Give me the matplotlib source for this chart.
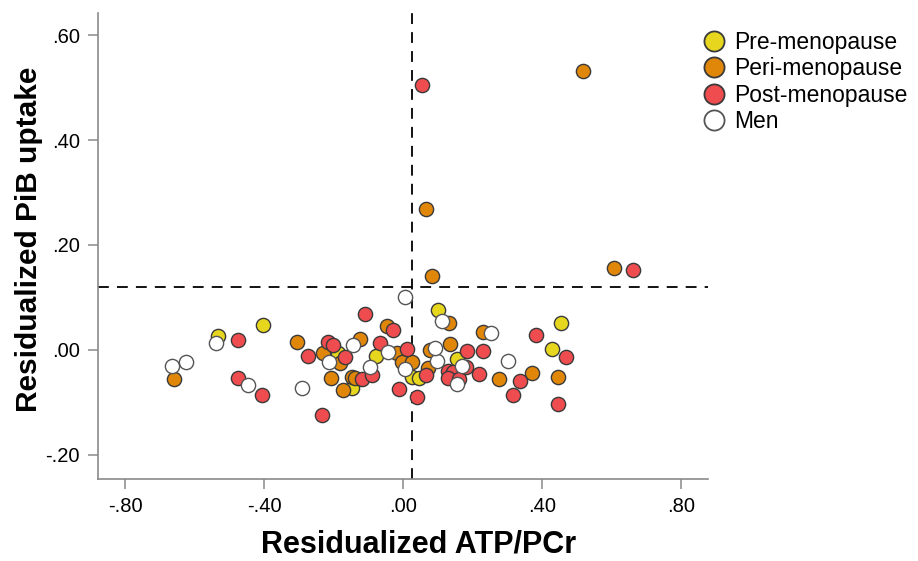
import matplotlib
matplotlib.use("Agg")
import matplotlib.pyplot as plt
from matplotlib.lines import Line2D

plt.rcParams['font.family'] = ['Liberation Sans', 'DejaVu Sans']

# residualized ATP/PCr (x) and PiB uptake (y) per group
pre_x = [-0.532, -0.403, -0.187, -0.147, -0.078, 0.026, 0.046, 0.101, 0.155, 0.455, 0.429]
pre_y = [0.027, 0.048, -0.006, -0.072, -0.011, -0.051, -0.053, 0.076, -0.017, 0.051, 0.002]

peri_x = [0.518, 0.066, 0.083, 0.607, -0.659, -0.305, -0.230, -0.181, -0.207, -0.173,
          -0.147, -0.138, -0.124, -0.046, -0.017, -0.003, 0.026, 0.072, 0.078, 0.132,
          0.135, 0.230, 0.276, 0.371, 0.446]
peri_y = [0.531, 0.269, 0.141, 0.156, -0.055, 0.015, -0.006, -0.025, -0.053, -0.076,
          -0.051, -0.053, 0.021, 0.046, -0.006, -0.023, -0.023, -0.034, 0.000, 0.051,
          0.011, 0.034, -0.055, -0.044, -0.051]

post_x = [0.055, 0.662, -0.475, -0.475, -0.406, -0.273, -0.233, -0.216, -0.201, -0.167,
          -0.109, -0.118, -0.089, -0.066, -0.029, 0.012, -0.012, 0.040, 0.066, 0.130,
          0.144, 0.130, 0.161, 0.181, 0.184, 0.219, 0.230, 0.317, 0.337, 0.383,
          0.469, 0.446]
post_y = [0.505, 0.152, 0.019, -0.053, -0.086, -0.011, -0.124, 0.015, 0.010, -0.013,
          0.069, -0.055, -0.048, 0.013, 0.038, 0.002, -0.074, -0.090, -0.048, -0.040,
          -0.042, -0.053, -0.055, -0.032, -0.002, -0.046, -0.002, -0.086, -0.059, 0.029,
          -0.013, -0.103]

men_x = [-0.665, -0.624, -0.538, -0.446, -0.291, -0.213, -0.144, -0.095, -0.043, 0.006,
         0.006, 0.098, 0.092, 0.112, 0.170, 0.155, 0.253, 0.302]
men_y = [-0.030, -0.023, 0.013, -0.067, -0.072, -0.023, 0.010, -0.032, -0.004, 0.101,
         -0.036, -0.021, 0.004, 0.055, -0.030, -0.065, 0.032, -0.021]

group_labels = ['Pre-menopause', 'Peri-menopause', 'Post-menopause', 'Men']
group_colors = ['#e6d71e', '#e0870a', '#ee4c4e', '#ffffff']
group_edges = ['#3a3a3a', '#3a3a3a', '#3a3a3a', '#555555']

x_ticks = [-0.8, -0.4, 0.0, 0.4, 0.8]
y_ticks = [-0.2, 0.0, 0.2, 0.4, 0.6]
x_cut = 0.026
y_cut = 0.12


def fmt(v):
    s = f"{v:.2f}"
    return s.replace("0.", ".", 1)


fig = plt.figure(figsize=(9.18, 5.61), dpi=100)
ax = fig.add_axes([0.1068, 0.1462, 0.6645, 0.8306])

groups = [(pre_x, pre_y), (peri_x, peri_y), (post_x, post_y), (men_x, men_y)]
for (gx, gy), c, ec in zip(groups, group_colors, group_edges):
    ax.scatter(gx, gy, s=105, c=c, edgecolors=ec, linewidths=1.0, zorder=3)

ax.axvline(x_cut, color='black', lw=1.3, ls=(0, (6, 4.5)), zorder=2)
ax.axhline(y_cut, color='black', lw=1.3, ls=(0, (6, 4.5)), zorder=2)

ax.set_xlim(-0.878, 0.878)
ax.set_ylim(-0.246, 0.642)
ax.set_xticks(x_ticks)
ax.set_yticks(y_ticks)
ax.set_xticklabels([fmt(v) for v in x_ticks])
ax.set_yticklabels([fmt(v) for v in y_ticks])

for side in ['top', 'right']:
    ax.spines[side].set_visible(False)
for side in ['left', 'bottom']:
    ax.spines[side].set_color('#8a8a8a')
    ax.spines[side].set_linewidth(1.2)
ax.tick_params(axis='both', direction='out', length=7, width=1.1, color='#8a8a8a',
               labelsize=14.5, pad=6)

ax.set_xlabel('Residualized ATP/PCr', fontsize=22, fontweight='bold')
ax.set_ylabel('Residualized PiB uptake', fontsize=21.5, fontweight='bold')
ax.xaxis.set_label_coords(0.525, -0.109)
ax.yaxis.set_label_coords(-0.09, 0.515)

handles = [Line2D([], [], marker='o', ls='none', markersize=14.5, markerfacecolor=c,
                  markeredgecolor=ec, markeredgewidth=1.3)
           for c, ec in zip(group_colors, group_edges)]
fig.legend(handles, group_labels, loc='upper left', bbox_to_anchor=(0.763, 0.945),
           frameon=False, fontsize=16.5, handletextpad=0.25, labelspacing=0.15,
           borderpad=0, borderaxespad=0, handlelength=1.2)

fig.savefig('out.png', dpi=100)
